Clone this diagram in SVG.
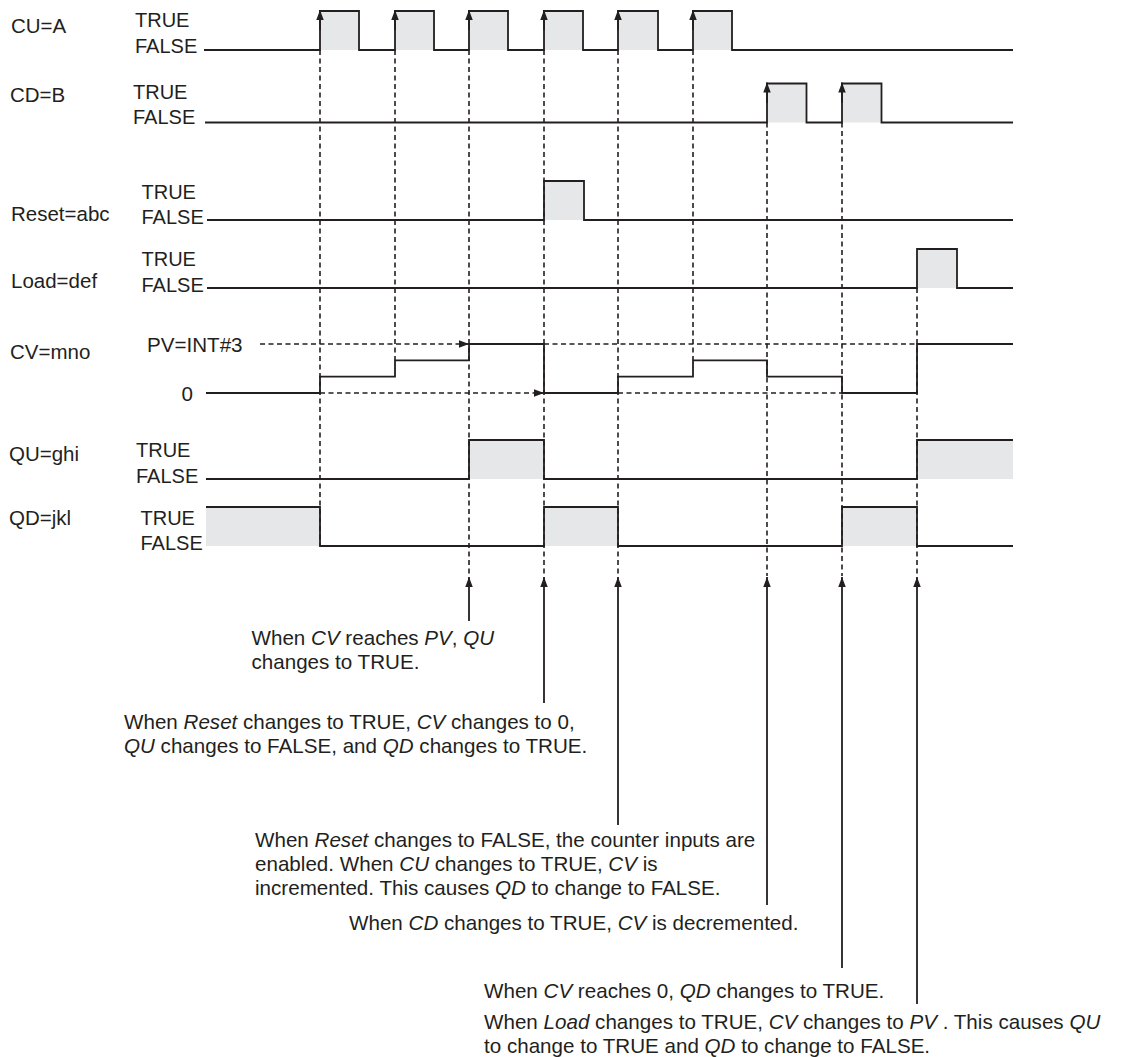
<svg xmlns="http://www.w3.org/2000/svg" width="1127" height="1057" viewBox="0 0 1127 1057">
<style>
text{font-family:"Liberation Sans",Arial,Helvetica,sans-serif;fill:#231f20}
.nm{font-size:20.5px}
.tf{font-size:20px}
.note{font-size:20.6px}
.it{font-style:italic}
.wave{fill:none;stroke:#231f20;stroke-width:1.8;stroke-linejoin:miter}
.shade{fill:#e6e7e8;stroke:none}
.dash{fill:none;stroke:#231f20;stroke-width:1.6;stroke-dasharray:5 3.5}
.arr{fill:none;stroke:#231f20;stroke-width:1.8}
</style>
<defs>
<marker id="ah" markerUnits="userSpaceOnUse" markerWidth="10" markerHeight="8" refX="10" refY="3.75" orient="auto">
<path d="M0,0 L10,3.75 L0,7.5 z" fill="#231f20"/>
</marker>
</defs>
<rect width="1127" height="1057" fill="#ffffff"/>

<g id="shading">
<rect class="shade" x="320" y="11" width="39" height="39"/>
<rect class="shade" x="395" y="11" width="39" height="39"/>
<rect class="shade" x="469" y="11" width="39" height="39"/>
<rect class="shade" x="544" y="11" width="39" height="39"/>
<rect class="shade" x="618" y="11" width="40" height="39"/>
<rect class="shade" x="693" y="11" width="39" height="39"/>
<rect class="shade" x="767" y="83.5" width="39.5" height="39"/>
<rect class="shade" x="842" y="83.5" width="39.5" height="39"/>
<rect class="shade" x="544" y="181" width="40" height="39"/>
<rect class="shade" x="917" y="249" width="40" height="39"/>
<rect class="shade" x="469" y="440" width="75" height="39"/>
<rect class="shade" x="917" y="440" width="96" height="39"/>
<rect class="shade" x="206" y="507" width="114" height="39"/>
<rect class="shade" x="544" y="507" width="74" height="39"/>
<rect class="shade" x="842" y="507" width="75" height="39"/>
</g>

<g id="connectors">
<line class="dash" x1="320" y1="50" x2="320" y2="546"/>
<line class="dash" x1="395" y1="50" x2="395" y2="360"/>
<line class="dash" x1="469" y1="50" x2="469" y2="576"/>
<line class="dash" x1="544" y1="50" x2="544" y2="576"/>
<line class="dash" x1="618" y1="50" x2="618" y2="576"/>
<line class="dash" x1="693" y1="50" x2="693" y2="360"/>
<line class="dash" x1="767" y1="122.5" x2="767" y2="576"/>
<line class="dash" x1="842" y1="122.5" x2="842" y2="576"/>
<line class="dash" x1="917" y1="288" x2="917" y2="576"/>
<line class="dash" x1="260" y1="344" x2="462" y2="344"/>
<line class="arr" x1="460" y1="344" x2="469" y2="344" marker-end="url(#ah)" stroke-width="0"/>
<line class="dash" x1="544" y1="344" x2="917" y2="344"/>
<line class="dash" x1="320" y1="393" x2="537" y2="393"/>
<line class="arr" x1="535" y1="393" x2="544" y2="393" marker-end="url(#ah)" stroke-width="0"/>
<line class="dash" x1="618" y1="393" x2="842" y2="393"/>
<line class="arr" x1="320" y1="30" x2="320" y2="10" marker-end="url(#ah)"/>
<line class="arr" x1="395" y1="30" x2="395" y2="10" marker-end="url(#ah)"/>
<line class="arr" x1="469" y1="30" x2="469" y2="10" marker-end="url(#ah)"/>
<line class="arr" x1="544" y1="30" x2="544" y2="10" marker-end="url(#ah)"/>
<line class="arr" x1="618" y1="30" x2="618" y2="10" marker-end="url(#ah)"/>
<line class="arr" x1="693" y1="30" x2="693" y2="10" marker-end="url(#ah)"/>
<line class="arr" x1="767" y1="103" x2="767" y2="82.5" marker-end="url(#ah)"/>
<line class="arr" x1="842" y1="103" x2="842" y2="82.5" marker-end="url(#ah)"/>
<line class="arr" x1="469" y1="621" x2="469" y2="577" marker-end="url(#ah)"/>
<line class="arr" x1="544" y1="703" x2="544" y2="577" marker-end="url(#ah)"/>
<line class="arr" x1="618" y1="825" x2="618" y2="577" marker-end="url(#ah)"/>
<line class="arr" x1="767" y1="905" x2="767" y2="577" marker-end="url(#ah)"/>
<line class="arr" x1="842" y1="968" x2="842" y2="577" marker-end="url(#ah)"/>
<line class="arr" x1="917" y1="1004" x2="917" y2="577" marker-end="url(#ah)"/>
</g>

<g id="sig-cu">
<text class="nm" x="11" y="33">CU=A</text>
<text class="tf" x="135" y="27">TRUE</text>
<text class="tf" x="135" y="52.5">FALSE</text>
<path class="wave" d="M204,50 H320 V11 H359 V50 H395 V11 H434 V50 H469 V11 H508 V50 H544 V11 H583 V50 H618 V11 H658 V50 H693 V11 H732 V50 H1013"/>
</g>
<g id="sig-cd">
<text class="nm" x="10" y="102">CD=B</text>
<text class="tf" x="133" y="99">TRUE</text>
<text class="tf" x="133" y="124">FALSE</text>
<path class="wave" d="M205,122.5 H767 V83.5 H806.5 V122.5 H842 V83.5 H881.5 V122.5 H1013"/>
</g>
<g id="sig-reset">
<text class="nm" x="11" y="221">Reset=abc</text>
<text class="tf" x="141.5" y="199">TRUE</text>
<text class="tf" x="141.5" y="224">FALSE</text>
<path class="wave" d="M207,220 H544 V181 H584 V220 H1013"/>
</g>
<g id="sig-load">
<text class="nm" x="11" y="288">Load=def</text>
<text class="tf" x="141.5" y="266">TRUE</text>
<text class="tf" x="141.5" y="291.5">FALSE</text>
<path class="wave" d="M207,288 H917 V249 H957 V288 H1013"/>
</g>
<g id="sig-cv">
<text class="nm" x="10" y="359">CV=mno</text>
<text class="note" x="147" y="352">PV=INT#3</text>
<text class="note" x="181.5" y="400.5">0</text>
<path class="wave" d="M206,393 H320 V376.7 H395 V360.3 H469 V344 H544 V393 H618 V376.7 H693 V360.3 H767 V376.7 H842 V393 H917 V344 H1013"/>
</g>
<g id="sig-qu">
<text class="nm" x="9" y="461">QU=ghi</text>
<text class="tf" x="136" y="457">TRUE</text>
<text class="tf" x="136" y="483">FALSE</text>
<path class="wave" d="M206,479 H469 V440 H544 V479 H917 V440 H1013"/>
</g>
<g id="sig-qd">
<text class="nm" x="9" y="525">QD=jkl</text>
<text class="tf" x="140.5" y="525">TRUE</text>
<text class="tf" x="140.5" y="550">FALSE</text>
<path class="wave" d="M206,507 H320 V546 H544 V507 H618 V546 H842 V507 H917 V546 H1013"/>
</g>

<g id="note1">
<text class="note" x="251.5" y="645">When <tspan class="it">CV</tspan> reaches <tspan class="it">PV</tspan>, <tspan class="it">QU</tspan></text>
<text class="note" x="251.5" y="669">changes to TRUE.</text>
</g>
<g id="note2">
<text class="note" x="124" y="729">When <tspan class="it">Reset</tspan> changes to TRUE, <tspan class="it">CV</tspan> changes to 0,</text>
<text class="note" x="124" y="753"><tspan class="it">QU</tspan> changes to FALSE, and <tspan class="it">QD</tspan> changes to TRUE.</text>
</g>
<g id="note3">
<text class="note" x="255" y="847">When <tspan class="it">Reset</tspan> changes to FALSE, the counter inputs are</text>
<text class="note" x="255" y="871">enabled. When <tspan class="it">CU</tspan> changes to TRUE, <tspan class="it">CV</tspan> is</text>
<text class="note" x="255" y="895">incremented. This causes <tspan class="it">QD</tspan> to change to FALSE.</text>
</g>
<g id="note4">
<text class="note" x="349" y="930">When <tspan class="it">CD</tspan> changes to TRUE, <tspan class="it">CV</tspan> is decremented.</text>
</g>
<g id="note5">
<text class="note" x="484" y="998">When <tspan class="it">CV</tspan> reaches 0, <tspan class="it">QD</tspan> changes to TRUE.</text>
</g>
<g id="note6">
<text class="note" x="484" y="1029">When <tspan class="it">Load</tspan> changes to TRUE, <tspan class="it">CV</tspan> changes to <tspan class="it">PV</tspan> . This causes <tspan class="it">QU</tspan></text>
<text class="note" x="484" y="1053">to change to TRUE and <tspan class="it">QD</tspan> to change to FALSE.</text>
</g>
</svg>
